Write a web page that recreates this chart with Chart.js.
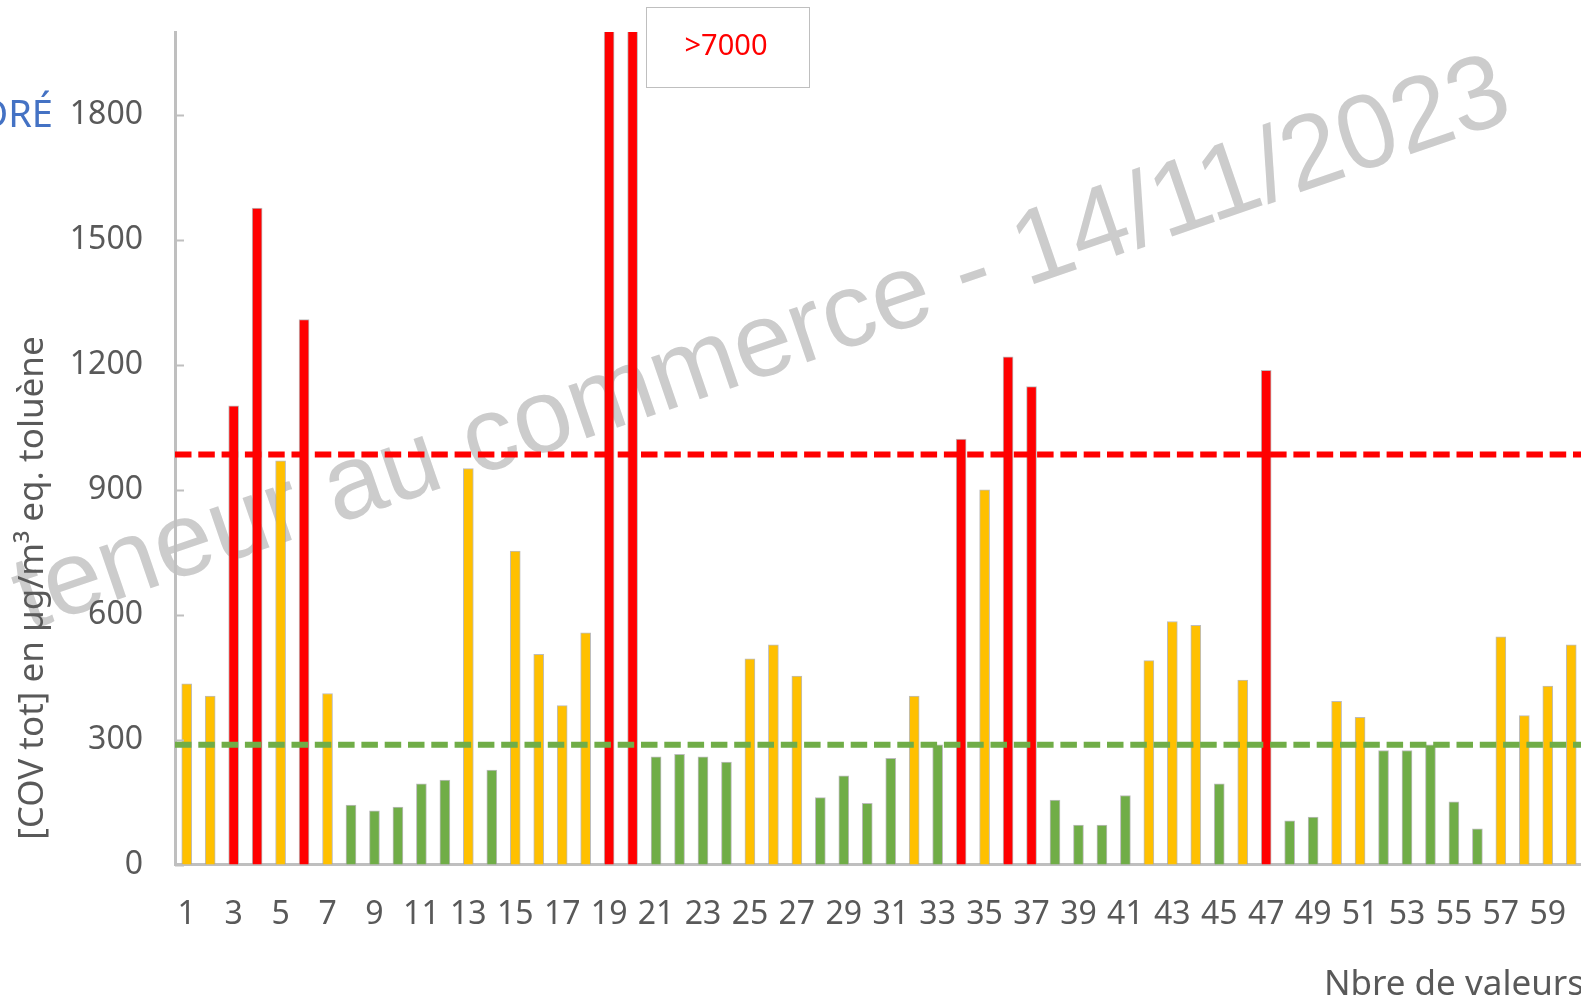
<!DOCTYPE html>
<html>
<head>
<meta charset="utf-8">
<script src="https://cdn.jsdelivr.net/npm/chart.js@4.4.0/dist/chart.umd.min.js"></script>
<style>
  html, body { margin: 0; padding: 0; background: #fff; overflow: hidden; }
  #wrap { width: 1600px; height: 1001px; }
</style>
</head>
<body>
<div id="wrap"><canvas id="chart" width="1600" height="1001"></canvas></div>
<script>
// numéros des mesures
const labels = [1,2,3,4,5,6,7,8,9,10,11,12,13,14,15,16,17,18,19,20,
  21,22,23,24,25,26,27,28,29,30,31,32,33,34,35,36,37,38,39,40,
  41,42,43,44,45,46,47,48,49,50,51,52,53,54,55,56,57,58,59,60];

// [COV tot] en µg/m3 eq. toluène (19 et 20 : > 7000)
const covValues = [434,405,1102,1577,970,1309,411,143,129,138,194,203,951,227,753,505,382,557,7000,7000,
  259,265,259,246,494,528,453,161,213,147,255,405,288,1022,900,1220,1148,155,95,95,
  166,490,584,575,194,443,1187,105,114,392,354,274,274,288,151,86,547,358,429,528];

const yTicks = [0, 300, 600, 900, 1200, 1500, 1800];
const yMax = 2000;

// seuils
const seuilRouge = 985;
const seuilVert = 288;

const watermark = 'teneur au commerce - 14/11/2023';

function barColor(v) {
  if (v > seuilRouge) return '#FF0000';
  if (v > seuilVert) return '#FFC000';
  return '#70AD47';
}

const decor = {
  id: 'decor',
  beforeDraw(chart) {
    const ctx = chart.ctx;
    ctx.save();
    ctx.translate(1516, 118);
    ctx.rotate(-19 * Math.PI / 180);
    ctx.font = '105px "Liberation Sans", Arial, sans-serif';
    ctx.fillStyle = '#CCCCCC';
    ctx.textAlign = 'right';
    ctx.textBaseline = 'alphabetic';
    ctx.fillText(watermark, 0, 0);
    ctx.restore();
  },
  afterDatasetsDraw(chart) {
    const ctx = chart.ctx;
    const a = chart.chartArea;
    const y = chart.scales.y;

    // petites graduations vers l'intérieur
    ctx.save();
    ctx.strokeStyle = '#BFBFBF';
    ctx.lineWidth = 2;
    yTicks.forEach(t => {
      const py = Math.round(y.getPixelForValue(t)) + 0.5;
      ctx.beginPath();
      ctx.moveTo(a.left, py);
      ctx.lineTo(a.left + 9, py);
      ctx.stroke();
    });
    ctx.restore();

    // lignes de seuil
    ctx.save();
    ctx.lineWidth = 6;
    ctx.setLineDash([16.5, 6.8]);
    ctx.strokeStyle = '#FF0000';
    let py = y.getPixelForValue(seuilRouge);
    ctx.beginPath(); ctx.moveTo(a.left, py); ctx.lineTo(a.right, py); ctx.stroke();
    ctx.strokeStyle = '#70AD47';
    py = y.getPixelForValue(seuilVert);
    ctx.beginPath(); ctx.moveTo(a.left, py); ctx.lineTo(a.right, py); ctx.stroke();
    ctx.restore();
  },
  afterDraw(chart) {
    const ctx = chart.ctx;
    const a = chart.chartArea;
    ctx.save();
    ctx.fillStyle = '#595959';
    ctx.font = '35px "Noto Sans"';

    // titre axe Y
    ctx.save();
    ctx.translate(33, 588);
    ctx.rotate(-Math.PI / 2);
    ctx.textAlign = 'center';
    ctx.textBaseline = 'middle';
    ctx.fillText('[COV tot] en µg/m³ eq. toluène', 0, 0);
    ctx.restore();

    // titre axe X
    ctx.textAlign = 'right';
    ctx.textBaseline = 'middle';
    ctx.fillText('Nbre de valeurs', a.right + 1, 985);

    // texte coupé à gauche
    ctx.fillStyle = '#4472C4';
    ctx.font = '38px "Noto Sans"';
    ctx.fillText('ORÉ', 53, 116);

    // encadré >7000
    ctx.fillStyle = '#FFFFFF';
    ctx.fillRect(646, 7, 163, 80);
    ctx.strokeStyle = '#BFBFBF';
    ctx.lineWidth = 1;
    ctx.strokeRect(646.5, 7.5, 163, 80);
    ctx.fillStyle = '#FF0000';
    ctx.font = '29px "Noto Sans"';
    ctx.textAlign = 'center';
    ctx.fillText('>7000', 726, 47);
    ctx.restore();
  }
};

Chart.defaults.font.family = '"Noto Sans", sans-serif';
Chart.defaults.color = '#595959';

const ctx = document.getElementById('chart').getContext('2d');
const chart = new Chart(ctx, {
  type: 'bar',
  data: {
    labels: labels,
    datasets: [{
      data: covValues,
      backgroundColor: covValues.map(barColor),
      borderColor: 'rgba(160,160,160,0.7)',
      borderWidth: 1,
      barThickness: 10
    }]
  },
  options: {
    responsive: false,
    animation: false,
    layout: { padding: { top: 32, right: 17, bottom: 36, left: 0 } },
    plugins: { legend: { display: false }, tooltip: { enabled: false } },
    scales: {
      x: {
        grid: { display: false, drawTicks: false },
        border: { display: true, color: '#BFBFBF', width: 3 },
        afterFit: (scale) => { scale.paddingLeft = 0; scale.paddingRight = 0; },
        ticks: {
          autoSkip: false,
          maxRotation: 0,
          padding: 31,
          font: { size: 32 },
          color: '#595959',
          callback: function(val, i) { return i % 2 === 0 ? this.getLabelForValue(val) : ''; }
        }
      },
      y: {
        min: 0,
        max: yMax,
        afterFit: (scale) => { scale.width = 175; scale.paddingTop = 0; scale.paddingBottom = 0; },
        grid: { display: false, drawTicks: false },
        border: { display: true, color: '#BFBFBF', width: 3 },
        ticks: {
          stepSize: 300,
          includeBounds: false,
          padding: 32,
          font: { size: 32 },
          color: '#595959',
          callback: (v) => String(v)
        }
      }
    }
  },
  plugins: [decor]
});
</script>
</body>
</html>
